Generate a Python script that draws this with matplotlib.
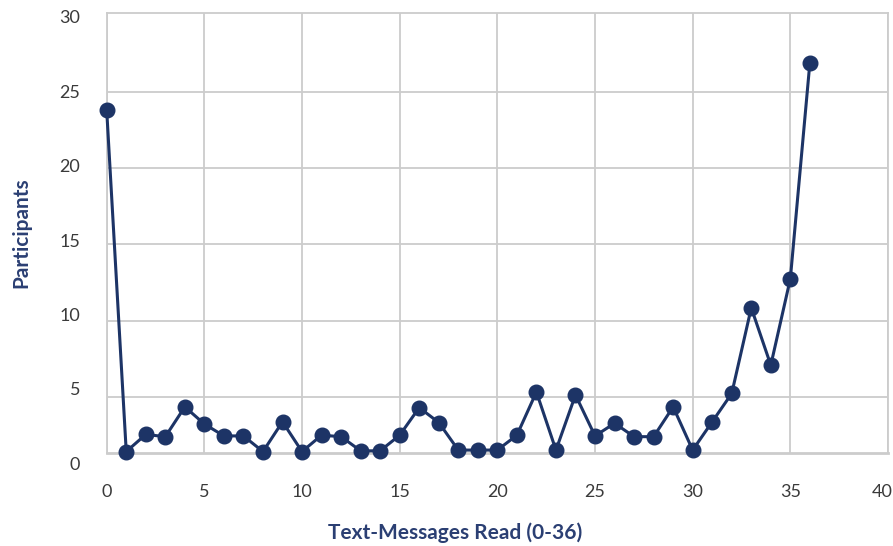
import numpy as np
import matplotlib.pyplot as plt

# messages read (0-36) and number of participants
messages = list(range(37))
participants = [23.8, 0.9, 2.05, 1.9, 3.9, 2.75, 1.95, 1.95, 0.9, 2.9,
                0.9, 2.0, 1.9, 0.95, 0.95, 2.0, 3.85, 2.85, 1.0, 1.0,
                1.0, 2.0, 4.9, 1.0, 4.7, 1.95, 2.8, 1.9, 1.9, 3.9,
                1.0, 2.9, 4.8, 10.55, 6.7, 12.5, 27.0]

x_ticks = [0, 5, 10, 15, 20, 25, 30, 35, 40]
y_labels = [0, 5, 10, 15, 20, 25, 30]

navy = "#1d3466"
grid_col = "#cccccc"
tick_col = "#3a3a3a"

plt.rcParams["font.family"] = ["Lato", "DejaVu Sans"]

fig = plt.figure(figsize=(8.93, 5.46), dpi=100)
ax = fig.add_axes([0.1195, 0.1709, 0.8749, 0.8047])

ax.plot(messages, participants, color=navy, lw=2.2, marker="o",
        markersize=10.5, zorder=3, clip_on=False)

ax.set_xlim(0, 40)
ax.set_ylim(0.825, 30.32)

# vertical grid, labels drawn as text below
ax.set_xticks(x_ticks)
ax.set_xticklabels([])
ax.grid(axis="x", color=grid_col, lw=1.3)
ax.tick_params(axis="x", length=0)
for v in x_ticks:
    dx = -4 if v == 40 else 0
    ax.annotate(str(v), xy=(v, 0), xycoords=("data", "axes fraction"),
                xytext=(dx, -28), textcoords="offset points",
                ha="center", va="center", fontsize=13, color=tick_col,
                annotation_clip=False)

# horizontal grid lines (placed as in the original, not on the labels)
ax.set_yticks([])
for f in [0.126, 0.300, 0.474, 0.648, 0.822]:
    ax.plot([0, 1], [f, f], transform=ax.transAxes, color=grid_col, lw=1.3, zorder=0)

# y labels drawn as text
for v in y_labels:
    ax.annotate(str(v), xy=(0, v), xycoords=("axes fraction", "data"),
                xytext=(-19, 0), textcoords="offset points",
                ha="right", va="center", fontsize=13, color=tick_col,
                annotation_clip=False)

for side in ["left", "right", "top"]:
    ax.spines[side].set_color(grid_col)
    ax.spines[side].set_linewidth(1.3)
ax.spines["bottom"].set_color(grid_col)
ax.spines["bottom"].set_linewidth(2)

fig.text(0.51, 0.024, "Text-Messages Read (0-36)", ha="center", va="center",
         fontsize=15, fontweight="bold", color="#2b3f73")
fig.text(0.024, 0.573, "Participants", ha="center", va="center", rotation=90,
         fontsize=15, fontweight="bold", color="#2b3f73")

fig.savefig("out.png", dpi=100)
